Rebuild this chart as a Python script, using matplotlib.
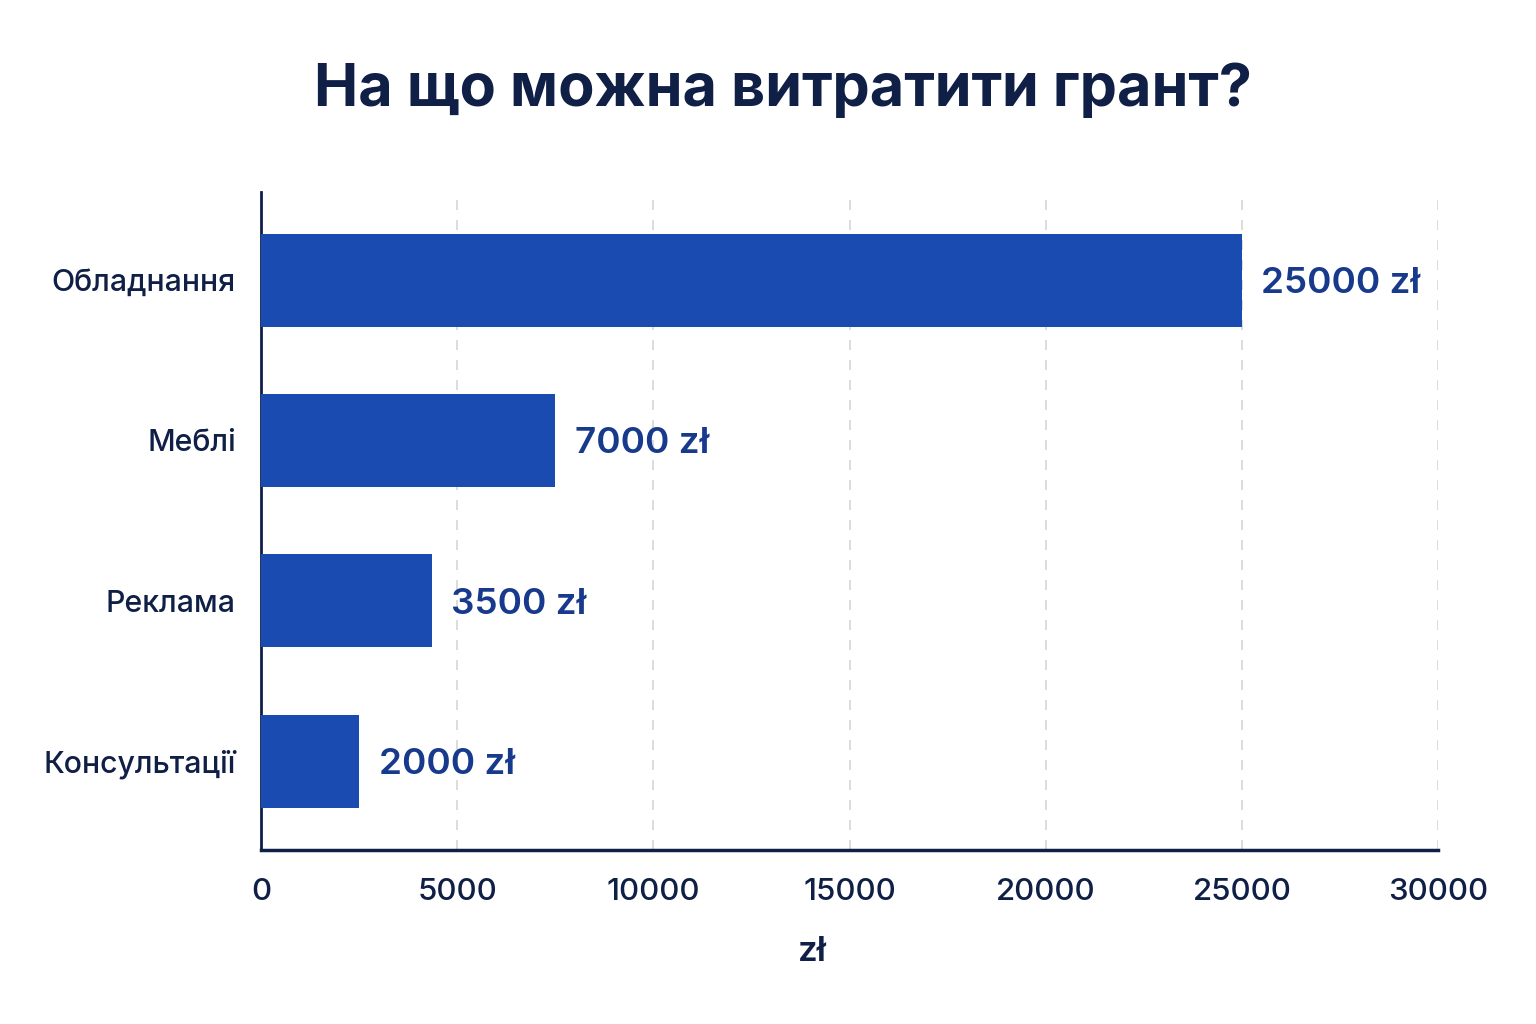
import matplotlib
matplotlib.use("Agg")
import matplotlib.pyplot as plt

categories = ["Обладнання", "Меблі", "Реклама", "Консультації"]
bar_values = [25000, 7500, 4350, 2500]
value_labels = ["25000 zł", "7000 zł", "3500 zł", "2000 zł"]
x_ticks = [0, 5000, 10000, 15000, 20000, 25000, 30000]

plt.rcParams['font.family'] = ['Inter', 'DejaVu Sans']

navy = "#0f1f45"
bar_color = "#1a4bb0"
label_color = "#173a8c"

fig = plt.figure(figsize=(15.36, 10.24), dpi=100)
ax = fig.add_axes([261 / 1536, 1 - 850 / 1024, 1177 / 1536, 658 / 1024])

pos = list(range(len(categories)))[::-1]
ax.barh(pos, bar_values, height=0.58, color=bar_color, zorder=3)

for p, v, lab in zip(pos, bar_values, value_labels):
    ax.text(v + 500, p, lab, va='center_baseline', ha='left', fontsize=26.5,
            fontweight='semibold', color=label_color, zorder=4)

ax.set_xlim(0, 30000)
ax.set_ylim(-0.555, 3.55)
ax.set_xticks(x_ticks)
ax.set_xticklabels([str(t) for t in x_ticks], fontsize=22.5, color=navy, fontweight='medium')
ax.set_yticks(pos)
ax.set_yticklabels(categories, fontsize=21.8, color=navy, fontweight='medium')
ax.tick_params(axis='both', length=0)
ax.tick_params(axis='x', pad=20)
ax.tick_params(axis='y', pad=18)

ax.grid(axis='x', linestyle=(0, (6, 6)), color='#d6d6d6', linewidth=1.2, zorder=0)
ax.set_axisbelow(True)

for s in ['top', 'right']:
    ax.spines[s].set_visible(False)
ax.spines['left'].set_color(navy)
ax.spines['bottom'].set_color(navy)
ax.spines['left'].set_linewidth(2)
ax.spines['bottom'].set_linewidth(2.5)

ax.set_xlabel("zł", fontsize=25, fontweight='semibold', color=navy)
ax.xaxis.set_label_coords(0.468, -0.13)

fig.text(0.51, 1 - 90 / 1024, "На що можна витратити грант?", ha='center', va='center',
         fontsize=42.7, fontweight='bold', color=navy)

fig.savefig("out.png", dpi=100, facecolor='white')
